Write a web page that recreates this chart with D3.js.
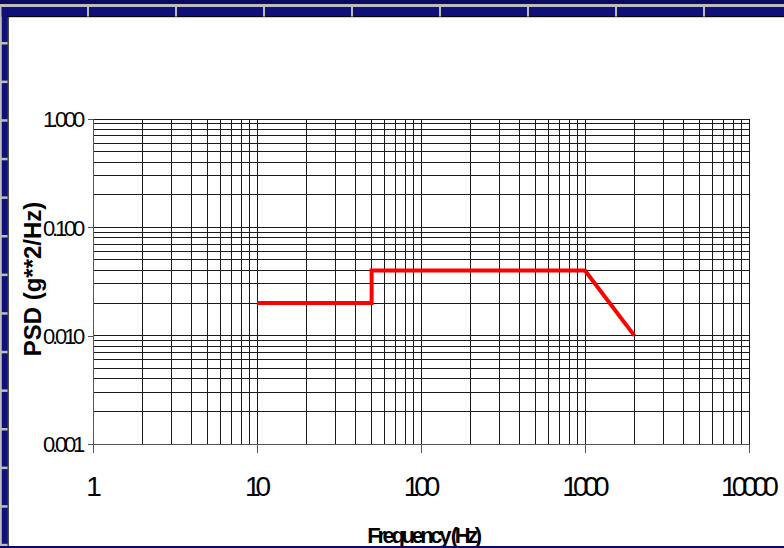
<!DOCTYPE html>
<meta charset="utf-8">
<script src="https://d3js.org/d3.v7.min.js"></script>
<style>
  body { margin: 0; background: #fff; }
  svg { display: block; font-family: "Liberation Sans", Arial, sans-serif; }
</style>
<div id="chart"></div>
<script>

// PSD profile (frequency in Hz, PSD in g^2/Hz)
var freq = [10, 50, 50, 1000, 2000];
var psd  = [0.02, 0.02, 0.04, 0.04, 0.01];

// axis ticks and their labels
var xTicks = [1, 10, 100, 1000, 10000];
var xLabels = ["1", "10", "100", "1000", "10000"];
var yTicks = [0.001, 0.01, 0.1, 1];
var yLabels = ["0.001", "0.010", "0.100", "1.000"];

var W = 784, H = 548;
var pLeft = 93, pRight = 749, pTop = 119, pBottom = 444;

var svg = d3.select("#chart").append("svg")
    .attr("width", W)
    .attr("height", H);

svg.append("rect").attr("width", W).attr("height", H).attr("fill", "#fff");

// slide frame: navy bands with grey rules and marks
var navy = "#10107a", grey = "#bdbdbd";
svg.append("rect").attr("x", 0).attr("y", 0).attr("width", W).attr("height", 4).attr("fill", "#0b0b60");
svg.append("rect").attr("x", 0).attr("y", 4).attr("width", W).attr("height", 3).attr("fill", grey);
svg.append("rect").attr("x", 0).attr("y", 7).attr("width", W).attr("height", 9.5).attr("fill", navy);
svg.append("rect").attr("x", 0).attr("y", 7).attr("width", 1.7).attr("height", H - 7).attr("fill", grey);
svg.append("rect").attr("x", 1.7).attr("y", 7).attr("width", 6).attr("height", H - 7).attr("fill", navy);
svg.append("rect").attr("x", 7.5).attr("y", 16).attr("width", W).attr("height", 1.2).attr("fill", "#000");
svg.append("rect").attr("x", 7.5).attr("y", 16).attr("width", 1.2).attr("height", H - 16).attr("fill", "#000");

// marks on the frame
svg.selectAll(".topmark").data(d3.range(1, 9)).enter().append("rect")
    .attr("x", function(d) { return d * 88 - 1; })
    .attr("y", 7).attr("width", 2).attr("height", 9.5).attr("fill", grey);
svg.selectAll(".leftmark").data(d3.range(0, 14)).enter().append("rect")
    .attr("x", 0).attr("y", function(d) { return 42 + d * 38.6; })
    .attr("width", 7.5).attr("height", 2.5).attr("fill", grey);

// scales
var x = d3.scaleLog().domain([1, 10000]).range([pLeft, pRight]);
var y = d3.scaleLog().domain([0.001, 1]).range([pBottom, pTop]);

// grid values: 1..9 in every decade
var xGrid = [], yGrid = [];
for (var k = 0; k < 4; k++) for (var m = 1; m < 10; m++) xGrid.push(m * Math.pow(10, k));
xGrid.push(10000);
for (var k = -3; k < 0; k++) for (var m = 1; m < 10; m++) yGrid.push(m * Math.pow(10, k));
yGrid.push(1);

var grid = svg.append("g").attr("shape-rendering", "crispEdges");
grid.selectAll(".vg").data(xGrid).enter().append("line")
    .attr("x1", function(d) { return x(d); }).attr("x2", function(d) { return x(d); })
    .attr("y1", pTop).attr("y2", pBottom)
    .attr("stroke", "#1a1a1a").attr("stroke-width", 1);
grid.selectAll(".hg").data(yGrid).enter().append("line")
    .attr("x1", pLeft).attr("x2", pRight)
    .attr("y1", function(d) { return y(d); }).attr("y2", function(d) { return y(d); })
    .attr("stroke", "#1a1a1a").attr("stroke-width", 1);

// axes
var xAxis = svg.append("g")
    .attr("transform", "translate(0," + pBottom + ")")
    .call(d3.axisBottom(x).tickValues(xTicks)
      .tickFormat(function(d, i) { return xLabels[i]; })
      .tickSize(9).tickSizeOuter(0));
xAxis.select(".domain").attr("stroke", "#555").attr("shape-rendering", "crispEdges");
xAxis.selectAll(".tick line").attr("stroke", "#555").attr("shape-rendering", "crispEdges");
xAxis.selectAll(".tick text")
    .attr("y", 52).attr("dy", 0).attr("dx", -2)
    .style("font-size", "28px")
    .style("letter-spacing", "-5px")
    .attr("fill", "#000");

var yAxis = svg.append("g")
    .attr("transform", "translate(" + pLeft + ",0)")
    .call(d3.axisLeft(y).tickValues(yTicks)
      .tickFormat(function(d, i) { return yLabels[i]; })
      .tickSize(5).tickSizeOuter(0));
yAxis.select(".domain").remove();
yAxis.append("line")
    .attr("x1", 0).attr("x2", 0).attr("y1", pTop).attr("y2", pBottom + 9)
    .attr("stroke", "#555").attr("shape-rendering", "crispEdges");
yAxis.selectAll(".tick line").attr("stroke", "#555").attr("shape-rendering", "crispEdges");
yAxis.selectAll(".tick text")
    .attr("x", -11).attr("dy", "0.36em")
    .style("font-size", "22px")
    .style("letter-spacing", "-3.2px")
    .attr("fill", "#000");

// axis titles
svg.append("text")
    .attr("transform", "translate(41,279) rotate(-90)")
    .attr("text-anchor", "middle")
    .style("font-size", "24px")
    .style("font-weight", "bold")
    .text("PSD (g**2/Hz)");

svg.append("text")
    .attr("x", 423).attr("y", 543)
    .attr("text-anchor", "middle")
    .style("font-size", "22px")
    .style("font-weight", "bold")
    .style("letter-spacing", "-3.4px")
    .text("Frequency (Hz)");

// PSD line
var line = d3.line()
    .x(function(d) { return x(d[0]); })
    .y(function(d) { return y(d[1]); });

svg.append("path")
    .datum(d3.zip(freq, psd))
    .attr("d", line)
    .attr("fill", "none")
    .attr("stroke", "#ff0000")
    .attr("stroke-width", 4)
    .attr("stroke-linejoin", "miter");

// bottom border drawn last so the title is clipped like the slide
svg.append("rect").attr("x", 0).attr("y", 546).attr("width", W).attr("height", 2).attr("fill", "#0b0b60");
</script>
